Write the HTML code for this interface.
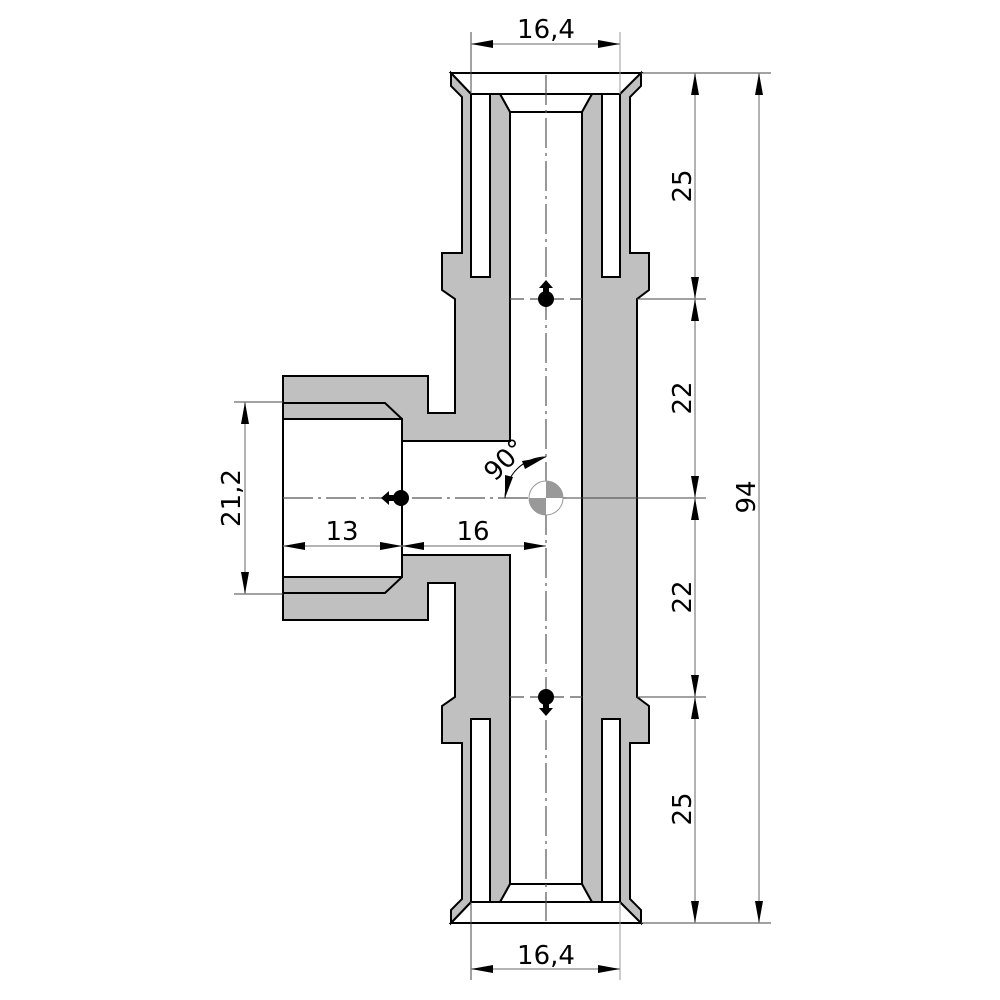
<!DOCTYPE html>
<html><head><meta charset="utf-8"><style>html,body{margin:0;padding:0;background:#fff}svg{display:block}</style></head>
<body>
<svg width="1000" height="1000" viewBox="0 0 1000 1000" xmlns="http://www.w3.org/2000/svg" font-family="'DejaVu Sans','Liberation Sans',sans-serif">
<defs>
<marker id="a" viewBox="0 0 22 8" refX="22" refY="4" markerWidth="22" markerHeight="8" markerUnits="userSpaceOnUse" orient="auto-start-reverse"><path d="M0,0 L22,4 L0,8 Z" fill="#000"/></marker>
<g id="lt">
<polygon fill="#c0c0c0" stroke="#000" stroke-width="2" stroke-linejoin="miter" points="442,253 462,253 462,97 451,86 451,73 471,94 471,277 490,277 490,94 500,94 510,112 510,441 402,441 402,419 283,419 283,376 428,376 428,413 455,413 455,299 442,290"/>
<line x1="462" y1="97" x2="462" y2="253" stroke="#000" stroke-width="1.5"/>
<polyline points="283,403 385,403 402,419" fill="none" stroke="#000" stroke-width="2"/>
</g>
</defs>
<!-- cap tops -->
<polygon points="451,73 641,73 620,94 471,94" fill="#fff" stroke="#000" stroke-width="2"/>
<polygon points="451,923 641,923 620,902 471,902" fill="#fff" stroke="#000" stroke-width="2"/>
<polygon points="500,94 592,94 582,112 510,112" fill="#fff" stroke="#000" stroke-width="2"/>
<polygon points="500,902 592,902 582,884 510,884" fill="#fff" stroke="#000" stroke-width="2"/>
<use href="#lt"/>
<use href="#lt" transform="translate(0,996) scale(1,-1)"/>
<polygon fill="#c0c0c0" stroke="#000" stroke-width="2" points="582,112 592,94 602,94 602,277 620,277 620,94 641,73 641,86 630,97 630,253 649,253 649,290 637,299 637,697 649,706 649,743 630,743 630,899 641,910 641,923 620,902 620,719 602,719 602,902 592,902 582,884"/>
<line x1="630" y1="97" x2="630" y2="253" stroke="#000" stroke-width="1.5"/>
<line x1="630" y1="743" x2="630" y2="899" stroke="#000" stroke-width="1.5"/>
<line x1="283" y1="376" x2="283" y2="620" stroke="#000" stroke-width="2"/>
<line x1="402" y1="419" x2="402" y2="577" stroke="#000" stroke-width="2"/>

<g stroke="#555" stroke-width="1.2" fill="none">
<line x1="546" y1="75" x2="546" y2="921" stroke-dasharray="30,5,3,5"/>
<line x1="283" y1="498" x2="566" y2="498" stroke-dasharray="30,5,3,5"/>
<line x1="510" y1="299" x2="582" y2="299" stroke-dasharray="14,6"/>
<line x1="510" y1="697" x2="582" y2="697" stroke-dasharray="14,6"/>
</g>

<g stroke="#444" stroke-width="1">
<line x1="471" y1="32" x2="471" y2="94"/>
<line x1="620" y1="32" x2="620" y2="94" stroke="#999"/>
<line x1="471" y1="902" x2="471" y2="980"/>
<line x1="620" y1="902" x2="620" y2="980" stroke="#999"/>
<line x1="641" y1="73" x2="771" y2="73"/>
<line x1="641" y1="923" x2="771" y2="923"/>
<line x1="637" y1="299" x2="706" y2="299"/>
<line x1="566" y1="498" x2="706" y2="498"/>
<line x1="637" y1="697" x2="706" y2="697"/>
<line x1="234" y1="402" x2="283" y2="402"/>
<line x1="234" y1="594" x2="283" y2="594"/>
</g>

<g stroke="#888" stroke-width="1.3" marker-start="url(#a)" marker-end="url(#a)">
<line x1="471" y1="44" x2="620" y2="44"/>
<line x1="471" y1="969" x2="620" y2="969"/>
<line x1="695" y1="73" x2="695" y2="299"/>
<line x1="695" y1="299" x2="695" y2="498"/>
<line x1="695" y1="498" x2="695" y2="697"/>
<line x1="695" y1="697" x2="695" y2="923"/>
<line x1="759" y1="73" x2="759" y2="923"/>
<line x1="245" y1="402" x2="245" y2="594"/>
<line x1="283" y1="546" x2="402" y2="546"/>
<line x1="402" y1="546" x2="546" y2="546"/>
</g>
<path d="M546,457 A41,41 0 0 0 505,498" fill="none" stroke="#000" stroke-width="1"/>
<path d="M546,457 L525,469 L522,461 Z" fill="#000"/>
<path d="M505,498 L505,475 L513,477 Z" fill="#000"/>

<g font-size="26" fill="#000" text-anchor="middle">
<text x="546" y="38">16,4</text>
<text x="546" y="964">16,4</text>
<text x="342" y="540">13</text>
<text x="473" y="540">16</text>
<text transform="translate(691,186) rotate(-90)">25</text>
<text transform="translate(691,398) rotate(-90)">22</text>
<text transform="translate(691,597) rotate(-90)">22</text>
<text transform="translate(691,809) rotate(-90)">25</text>
<text transform="translate(755,497) rotate(-90)">94</text>
<text transform="translate(240,498) rotate(-90)">21,2</text>
<text transform="translate(511,466) rotate(-45)">90°</text>
</g>

<circle cx="546" cy="498" r="17" fill="#fff" stroke="#999" stroke-width="1"/>
<path d="M546,498 L546,481 A17,17 0 0 1 563,498 Z" fill="#999"/>
<path d="M546,498 L546,515 A17,17 0 0 1 529,498 Z" fill="#999"/>

<circle cx="546" cy="299" r="8" fill="#000"/>
<path d="M546,280 L553,288 L549,288 L549,294 L543,294 L543,288 L539,288 Z" fill="#000"/>
<circle cx="546" cy="697" r="8" fill="#000"/>
<path d="M546,716 L553,708 L549,708 L549,702 L543,702 L543,708 L539,708 Z" fill="#000"/>
<circle cx="401" cy="498" r="8" fill="#000"/>
<path d="M381,498 L389,491 L389,495 L395,495 L395,501 L389,501 L389,505 Z" fill="#000"/>
</svg>
</body></html>
